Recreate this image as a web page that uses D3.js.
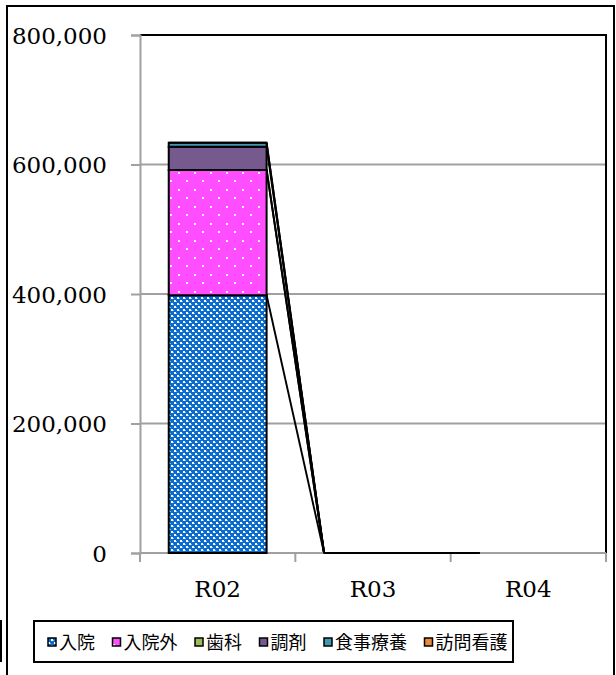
<!DOCTYPE html>
<html>
<head>
<meta charset="utf-8">
<script src="https://cdn.jsdelivr.net/npm/d3@7/dist/d3.min.js"></script>
<style>
  html, body { margin: 0; padding: 0; background: #fff; }
  svg { display: block; }
</style>
</head>
<body>
<svg id="chart" width="616" height="675"></svg>
<script>
// Fiscal years (R04 has no figures yet)
const years = ["R02", "R03", "R04"];

// Medical expense categories, stacked bottom to top
const seriesNames = ["入院", "入院外", "歯科", "調剤", "食事療養", "訪問看護"];

// Values per category, one entry per fiscal year (null = no data)
const inpatient  = [398000, 0, null];
const outpatient = [193500, 0, null];
const dental     = [0,      0, null];
const pharmacy   = [36000,  0, null];
const meals      = [6000,   0, null];
const visitNurse = [0,      0, null];

const yTicks = [0, 200000, 400000, 600000, 800000];

const seriesValues = [inpatient, outpatient, dental, pharmacy, meals, visitNurse];
const fills = ["url(#patInpatient)", "url(#patOutpatient)", "#9BBB59", "#75598F", "#4198AF", "#E8893C"];

const svg = d3.select("#chart");

// ---- fill patterns ----
const defs = svg.append("defs");
const pIn = defs.append("pattern").attr("id", "patInpatient")
  .attr("patternUnits", "userSpaceOnUse").attr("width", 6).attr("height", 6);
pIn.append("rect").attr("width", 6).attr("height", 6).attr("fill", "#0A6CCC");
pIn.append("rect").attr("x", 0).attr("y", 0).attr("width", 2).attr("height", 2).attr("fill", "#ffffff");
pIn.append("rect").attr("x", 3).attr("y", 3).attr("width", 2).attr("height", 2).attr("fill", "#ffffff");
pIn.append("rect").attr("x", 2).attr("y", 1).attr("width", 1).attr("height", 1).attr("fill", "#7fb4e8");
pIn.append("rect").attr("x", 5).attr("y", 4).attr("width", 1).attr("height", 1).attr("fill", "#7fb4e8");

const pOut = defs.append("pattern").attr("id", "patOutpatient")
  .attr("patternUnits", "userSpaceOnUse").attr("width", 16).attr("height", 17);
pOut.append("rect").attr("width", 16).attr("height", 17).attr("fill", "#FF4DFF");
pOut.append("rect").attr("x", 2).attr("y", 2).attr("width", 2).attr("height", 2).attr("fill", "#ffffff");
pOut.append("rect").attr("x", 10).attr("y", 10).attr("width", 2).attr("height", 2).attr("fill", "#ffffff");

const pOutSw = defs.append("pattern").attr("id", "patOutSwatch")
  .attr("patternUnits", "userSpaceOnUse").attr("width", 9).attr("height", 9);
pOutSw.append("rect").attr("width", 9).attr("height", 9).attr("fill", "#FF4DFF");
pOutSw.append("rect").attr("x", 5).attr("y", 5).attr("width", 2).attr("height", 2).attr("fill", "#ffffff");

// ---- frame around the whole chart ----
svg.append("path")
  .attr("d", "M7,680 V6 H614 V680")
  .attr("fill", "none").attr("stroke", "#000").attr("stroke-width", 2);
svg.append("line")
  .attr("x1", 1).attr("x2", 1).attr("y1", 620).attr("y2", 662)
  .attr("stroke", "#000").attr("stroke-width", 2);

// ---- plot area ----
const plot = { left: 140, right: 606, top: 35, bottom: 553 };

const y = d3.scaleLinear().domain([0, 800000]).range([plot.bottom, plot.top]);
const xSlot = d3.scaleBand().domain(years).range([plot.left, plot.right]);
const xBar = d3.scaleBand().domain(years).range([plot.left, plot.right])
  .paddingInner(0.37).paddingOuter(0.185);

// gridlines
svg.append("g").selectAll("line")
  .data(yTicks.filter(t => t > 0 && t < 800000))
  .join("line")
  .attr("x1", plot.left).attr("x2", plot.right)
  .attr("y1", d => y(d)).attr("y2", d => y(d))
  .attr("stroke", "#A0A0A0").attr("stroke-width", 2);

// top and right edges of the plot area
svg.append("path")
  .attr("d", `M${plot.left},${y(800000)} H${plot.right} V${plot.bottom}`)
  .attr("fill", "none").attr("stroke", "#000").attr("stroke-width", 2);

// y axis
const yAxis = svg.append("g")
  .attr("transform", `translate(${plot.left},0)`)
  .call(d3.axisLeft(y).tickValues(yTicks).tickSize(9).tickPadding(24)
    .tickFormat(d3.format(",")));
yAxis.select(".domain").attr("stroke", "#A0A0A0").attr("stroke-width", 2);
yAxis.selectAll(".tick line").attr("stroke", "#A0A0A0").attr("stroke-width", 2);
yAxis.selectAll(".tick text")
  .attr("font-family", "'DejaVu Serif', serif").attr("font-size", 23)
  .attr("fill", "#000").attr("dy", "0.36em");

// x axis line and slot ticks
svg.append("line")
  .attr("x1", plot.left).attr("x2", plot.right)
  .attr("y1", plot.bottom).attr("y2", plot.bottom)
  .attr("stroke", "#A0A0A0").attr("stroke-width", 2);
const slotEdges = years.map(d => xSlot(d)).concat([xSlot(years[years.length - 1]) + xSlot.bandwidth()]);
svg.append("g").selectAll("line")
  .data(slotEdges)
  .join("line")
  .attr("x1", d => d).attr("x2", d => d)
  .attr("y1", plot.bottom).attr("y2", plot.bottom + 9)
  .attr("stroke", "#A0A0A0").attr("stroke-width", 2);
svg.append("g").selectAll("text")
  .data(years)
  .join("text")
  .attr("x", d => xSlot(d) + xSlot.bandwidth() / 2)
  .attr("y", 597)
  .attr("text-anchor", "middle")
  .attr("font-family", "'DejaVu Serif', serif").attr("font-size", 23)
  .attr("fill", "#000")
  .text(d => d);

// ---- stacked columns ----
const stackRows = years.map((yr, i) => {
  const row = { year: yr, present: seriesValues[0][i] !== null };
  seriesNames.forEach((s, k) => { row[s] = seriesValues[k][i] ?? 0; });
  return row;
});
const stacked = d3.stack().keys(seriesNames)(stackRows);

// series lines joining the top of each segment across adjacent years
const seriesLines = svg.append("g");
stacked.forEach(layer => {
  for (let i = 0; i < years.length - 1; i++) {
    if (!stackRows[i].present) continue;
    seriesLines.append("line")
      .attr("x1", xBar(years[i]) + xBar.bandwidth())
      .attr("y1", y(layer[i][1]))
      .attr("x2", xBar(years[i + 1]))
      .attr("y2", y(layer[i + 1][1]))
      .attr("stroke", "#000").attr("stroke-width", 1.9);
  }
});

// segments drawn as closed paths so zero-height segments still show their outline
const segPath = d => {
  const x0 = xBar(d.data.year), w = xBar.bandwidth();
  const yTop = y(d[1]), yBot = y(d[0]);
  return `M${x0},${yBot}V${yTop}H${x0 + w}V${yBot}Z`;
};
const bars = svg.append("g");
stacked.forEach((layer, k) => {
  bars.append("g").selectAll("path")
    .data(layer.filter(d => d.data.present))
    .join("path")
    .attr("d", segPath)
    .attr("fill", fills[k])
    .attr("stroke", "#000").attr("stroke-width", 2)
    .attr("stroke-linejoin", "miter");
});

// ---- legend ----
const legend = svg.append("g");
legend.append("rect")
  .attr("x", 34).attr("y", 621).attr("width", 479).attr("height", 41)
  .attr("fill", "#fff").attr("stroke", "#000").attr("stroke-width", 2);
const swatchFills = ["url(#patInpatient)", "url(#patOutSwatch)", "#9BBB59", "#75598F", "#4198AF", "#E8893C"];
let lx = 48;
seriesNames.forEach((name, k) => {
  const g = legend.append("g");
  g.append("rect")
    .attr("x", lx).attr("y", 638).attr("width", 8).attr("height", 8)
    .attr("fill", swatchFills[k]).attr("stroke", "#000").attr("stroke-width", 1.5);
  const t = g.append("text")
    .attr("x", lx + 11).attr("y", 649)
    .attr("font-family", "'Noto Sans CJK JP', sans-serif").attr("font-size", 18)
    .attr("fill", "#000")
    .text(name);
  lx += 11 + t.node().getComputedTextLength() + 17.5;
});
</script>
</body>
</html>
